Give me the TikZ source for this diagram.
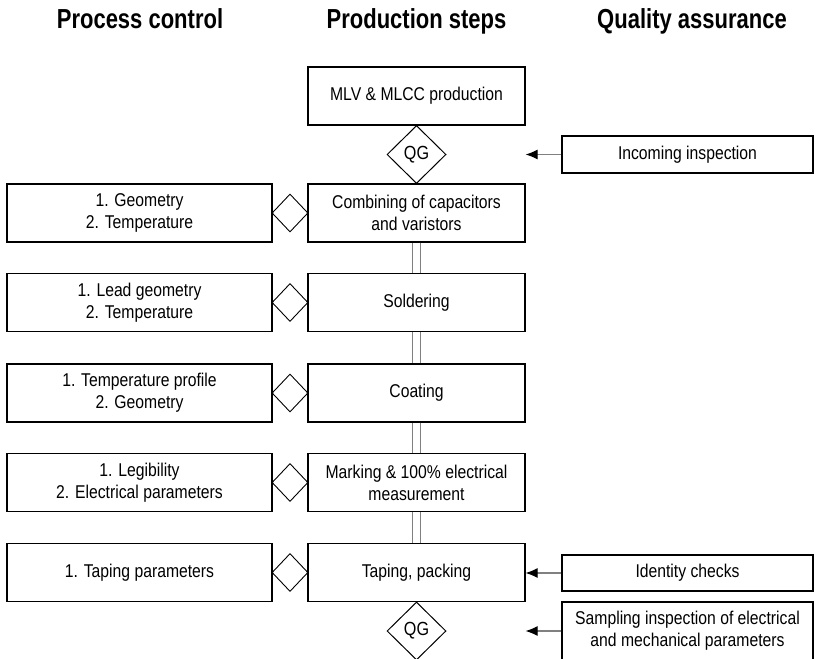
\documentclass[tikz,border=0pt]{standalone}
\usepackage{fontspec}
\setmainfont[FakeStretch=0.85]{Liberation Sans}
\newfontfamily\headfont[FakeStretch=0.8]{Liberation Sans}
\usetikzlibrary{shapes.geometric,arrows.meta}
\tikzset{
  stepbox/.style={draw, line width=1.1pt, minimum width=217pt, minimum height=58pt, inner sep=0pt, align=center, font=\fontsize{18.5}{22}\selectfont},
  ctrlbox/.style={stepbox, minimum width=265pt},
  qabox/.style={stepbox, minimum width=251pt},
  gate/.style={draw, diamond, line width=1pt, minimum width=59pt, minimum height=58pt, inner sep=0pt, font=\fontsize{19}{22}\selectfont},
  check/.style={draw, diamond, line width=0.9pt, minimum width=36pt, minimum height=38pt, inner sep=0pt},
  link/.style={draw=gray, double=white, double distance=7pt, line width=1pt},
  qaarrow/.style={draw=gray, line width=1.1pt, -{Latex[color=black, length=12pt, width=10pt]}},
  head/.style={anchor=base, font=\headfont\bfseries\fontsize{27.5}{30}\selectfont}
}
\begin{document}
\begin{tikzpicture}[x=1pt, y=-1pt]
\useasboundingbox (0,0) rectangle (821,658);

\node[head] (h1) at (140, 29) {Process control};
\node[head] (h2) at (416.5, 29) {Production steps};
\node[head] (h3) at (692, 29) {Quality assurance};

\node[stepbox] (p1) at (416.5, 96) {MLV \& MLCC production};
\node[gate] (g1) at (416.5, 154.5) {QG};
\node[stepbox] (p2) at (416.5, 213) {Combining of capacitors\\and varistors};
\node[stepbox] (p3) at (416.5, 302.5) {Soldering};
\node[stepbox] (p4) at (416.5, 393) {Coating};
\node[stepbox] (p5) at (416.5, 482.5) {Marking \& 100\% electrical\\measurement};
\node[stepbox] (p6) at (416.5, 572.5) {Taping, packing};
\node[gate] (g2) at (416.5, 631) {QG};

\node[ctrlbox] (c1) at (139.5, 213) {1. Geometry\\2. Temperature};
\node[ctrlbox] (c2) at (139.5, 302.5) {1. Lead geometry\\2. Temperature};
\node[ctrlbox] (c3) at (139.5, 393) {1. Temperature profile\\2. Geometry};
\node[ctrlbox] (c4) at (139.5, 482.5) {1. Legibility\\2. Electrical parameters};
\node[ctrlbox] (c5) at (139.5, 572.5) {1. Taping parameters};

\node[check] (k1) at (290, 213) {};
\node[check] (k2) at (290, 302.5) {};
\node[check] (k3) at (290, 393) {};
\node[check] (k4) at (290, 482.5) {};
\node[check] (k5) at (290, 572.5) {};

\node[qabox, minimum height=37pt] (q1) at (687.5, 154.5) {Incoming inspection};
\node[qabox, minimum height=36pt] (q2) at (687.5, 573) {Identity checks};
\node[qabox] (q3) at (687.5, 631) {Sampling inspection of electrical\\and mechanical parameters};

\foreach \a/\b in {p2/p3, p3/p4, p4/p5, p5/p6}
  \draw[link] (\a.south) -- (\b.north);

\draw[qaarrow] (q1.west) -- (q1.west -| p1.east);
\draw[qaarrow] (q2.west) -- (q2.west -| p6.east);
\draw[qaarrow] (q3.west) -- (q3.west -| p6.east);

\end{tikzpicture}
\end{document}
